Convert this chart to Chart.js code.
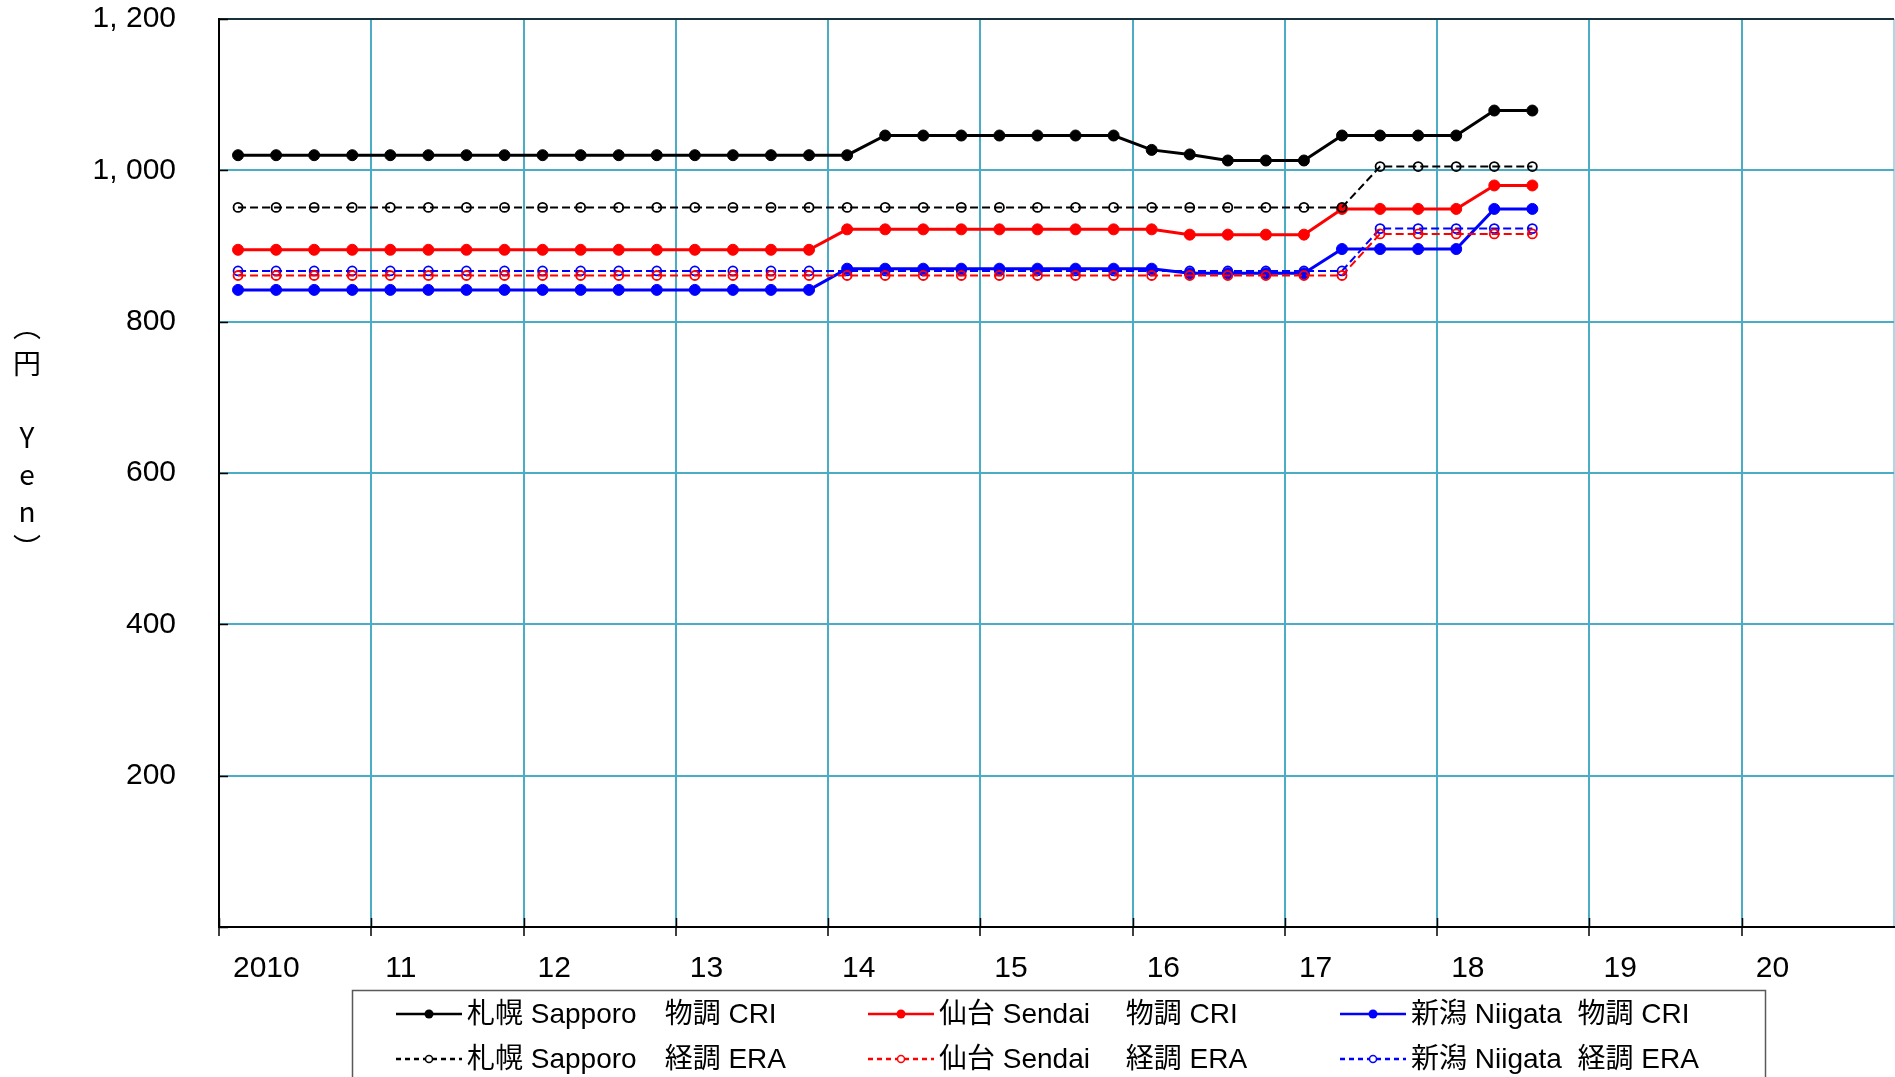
<!DOCTYPE html>
<html>
<head>
<meta charset="utf-8">
<script src="https://cdn.jsdelivr.net/npm/chart.js@4.4.1/dist/chart.umd.min.js"></script>
<style>
  html, body { margin: 0; padding: 0; background: #fff; }
  #wrap { width: 1895px; height: 1077px; }
</style>
</head>
<body>
<div id="wrap"><canvas id="chart" width="1895" height="1077"></canvas></div>
<script>
// quarterly data, 2010Q1 .. 2018Q3
const quarters = [
  '2010Q1','2010Q2','2010Q3','2010Q4','2011Q1','2011Q2','2011Q3','2011Q4',
  '2012Q1','2012Q2','2012Q3','2012Q4','2013Q1','2013Q2','2013Q3','2013Q4',
  '2014Q1','2014Q2','2014Q3','2014Q4','2015Q1','2015Q2','2015Q3','2015Q4',
  '2016Q1','2016Q2','2016Q3','2016Q4','2017Q1','2017Q2','2017Q3','2017Q4',
  '2018Q1','2018Q2','2018Q3'
];
const yearLabels = ['2010', '11', '12', '13', '14', '15', '16', '17', '18', '19', '20'];
const yTickLabels = ['', '200', '400', '600', '800', '1, 000', '1, 200'];

const sapporoCRI = [
  1020,1020,1020,1020, 1020,1020,1020,1020, 1020,1020,1020,1020, 1020,1020,1020,1020,
  1020,1046,1046,1046, 1046,1046,1046,1046, 1027,1021,1013,1013, 1013,1046,1046,1046,
  1046,1079,1079
];
const sapporoERA = [
  951,951,951,951, 951,951,951,951, 951,951,951,951, 951,951,951,951,
  951,951,951,951, 951,951,951,951, 951,951,951,951, 951,951,1005,1005,
  1005,1005,1005
];
const sendaiCRI = [
  895,895,895,895, 895,895,895,895, 895,895,895,895, 895,895,895,895,
  922,922,922,922, 922,922,922,922, 922,915,915,915, 915,949,949,949,
  949,980,980
];
const sendaiERA = [
  861,861,861,861, 861,861,861,861, 861,861,861,861, 861,861,861,861,
  861,861,861,861, 861,861,861,861, 861,861,861,861, 861,861,916,916,
  916,916,916
];
const niigataCRI = [
  842,842,842,842, 842,842,842,842, 842,842,842,842, 842,842,842,842,
  870,870,870,870, 870,870,870,870, 870,864,864,864, 864,896,896,896,
  896,949,949
];
const niigataERA = [
  867,867,867,867, 867,867,867,867, 867,867,867,867, 867,867,867,867,
  867,867,867,867, 867,867,867,867, 867,867,867,867, 867,867,923,923,
  923,923,923
];

const legendLabels = [
  '札幌 Sapporo　物調 CRI', '札幌 Sapporo　経調 ERA',
  '仙台 Sendai　 物調 CRI', '仙台 Sendai　 経調 ERA',
  '新潟 Niigata  物調 CRI', '新潟 Niigata  経調 ERA'
];
const yTitleChars = ['︵', '円', '', 'Y', 'e', 'n', '︶'];

const GRID = '#4BACC6';
const tickFont = '"Liberation Sans Narrow", "Arial Narrow", "Liberation Sans", sans-serif';
const textFont = '"Liberation Sans", "Noto Sans CJK JP", sans-serif';

function toPoints(values) {
  return values.map((v, i) => ({ x: i + 0.5, y: v }));
}

function series(label, values, color, dashed) {
  return {
    label: label,
    data: toPoints(values),
    borderColor: color,
    backgroundColor: color,
    borderWidth: dashed ? 2 : 3,
    borderDash: dashed ? [8, 4] : [],
    pointRadius: dashed ? 4.5 : 5.5,
    pointBorderWidth: dashed ? 1.8 : 1,
    pointBackgroundColor: dashed ? 'rgba(0,0,0,0)' : color,
    pointBorderColor: color,
    tension: 0,
    fill: false
  };
}

// legend box below the axis, drawn from the dataset styles
const legendBox = {
  id: 'legendBox',
  afterDraw(chart) {
    const ctx = chart.ctx;
    ctx.save();
    ctx.strokeStyle = '#595959';
    ctx.lineWidth = 1.5;
    ctx.strokeRect(352.5, 990.5, 1413, 140);
    ctx.font = '28px ' + textFont;
    ctx.textBaseline = 'middle';
    ctx.fillStyle = '#000';
    chart.data.datasets.forEach((ds, i) => {
      const col = Math.floor(i / 2);
      const row = i % 2;
      const x = 396 + col * 472;
      const y = 1014 + row * 45;
      ctx.strokeStyle = ds.borderColor;
      ctx.lineWidth = 2.5;
      ctx.setLineDash(row ? [5, 4] : []);
      ctx.beginPath();
      ctx.moveTo(x, y);
      ctx.lineTo(x + 66, y);
      ctx.stroke();
      ctx.setLineDash([]);
      ctx.beginPath();
      ctx.arc(x + 33, y, row ? 3.5 : 4.5, 0, Math.PI * 2);
      if (row) {
        ctx.fillStyle = '#fff';
        ctx.fill();
        ctx.lineWidth = 1.5;
        ctx.stroke();
      } else {
        ctx.fillStyle = ds.borderColor;
        ctx.fill();
      }
      ctx.fillStyle = '#000';
      ctx.fillText(legendLabels[i], x + 71, y + 1);
    });
    ctx.restore();
  }
};

// vertical y axis title and inside tick marks
const extras = {
  id: 'extras',
  afterDraw(chart) {
    const ctx = chart.ctx;
    const a = chart.chartArea;
    ctx.save();
    ctx.fillStyle = '#000';
    ctx.font = '28px "Noto Sans CJK JP", sans-serif';
    ctx.textAlign = 'center';
    ctx.textBaseline = 'middle';
    yTitleChars.forEach((c, i) => {
      ctx.fillText(c, 27, 326 + i * 37);
    });
    ctx.strokeStyle = '#000';
    ctx.lineWidth = 1.5;
    chart.scales.y.ticks.forEach(t => {
      const py = Math.round(chart.scales.y.getPixelForValue(t.value)) + 0.5;
      ctx.beginPath();
      ctx.moveTo(a.left, py);
      ctx.lineTo(a.left + 9, py);
      ctx.stroke();
    });
    chart.scales.x.ticks.forEach(t => {
      if (t.value >= 44) return;
      const px = Math.round(chart.scales.x.getPixelForValue(t.value)) + 0.5;
      ctx.beginPath();
      ctx.moveTo(px, a.bottom);
      ctx.lineTo(px, a.bottom - 9);
      ctx.stroke();
    });
    ctx.restore();
  }
};

new Chart(document.getElementById('chart'), {
  type: 'line',
  data: {
    datasets: [
      series(legendLabels[0], sapporoCRI, '#000000', false),
      series(legendLabels[1], sapporoERA, '#000000', true),
      series(legendLabels[2], sendaiCRI, '#FF0000', false),
      series(legendLabels[3], sendaiERA, '#FF0000', true),
      series(legendLabels[4], niigataCRI, '#0000FF', false),
      series(legendLabels[5], niigataERA, '#0000FF', true)
    ]
  },
  options: {
    responsive: false,
    animation: false,
    layout: { autoPadding: false, padding: { top: 19, right: 1, left: 0, bottom: 0 } },
    plugins: {
      legend: { display: false },
      tooltip: { enabled: false }
    },
    scales: {
      x: {
        type: 'linear',
        min: 0,
        max: 44,
        afterFit: s => { s.height = 150; s.paddingLeft = 0; s.paddingRight = 0; },
        border: { color: '#000', width: 2 },
        grid: {
          color: c => (c.tick && c.tick.value === 44 ? '#a8dbe6' : GRID),
          lineWidth: 2,
          tickLength: 9,
          tickColor: c => (c.tick && c.tick.value === 44 ? 'rgba(0,0,0,0)' : '#000'),
          tickWidth: 1.5
        },
        ticks: {
          stepSize: 4,
          autoSkip: false,
          maxRotation: 0,
          align: 'start',
          labelOffset: 14,
          padding: 15,
          color: '#000',
          font: { size: 30, family: tickFont },
          callback: v => yearLabels[v / 4] || ''
        }
      },
      y: {
        min: 0,
        max: 1200,
        afterFit: s => { s.width = 219; s.paddingTop = 0; s.paddingBottom = 0; },
        border: { color: '#000', width: 2 },
        grid: {
          color: c => (c.tick && c.tick.value === 1200 ? '#17323a' : GRID),
          lineWidth: 2,
          drawTicks: false
        },
        ticks: {
          stepSize: 200,
          padding: 43,
          color: '#000',
          font: { size: 30, family: tickFont },
          callback: (v, i) => yTickLabels[i]
        }
      }
    }
  },
  plugins: [legendBox, extras]
});
</script>
</body>
</html>
